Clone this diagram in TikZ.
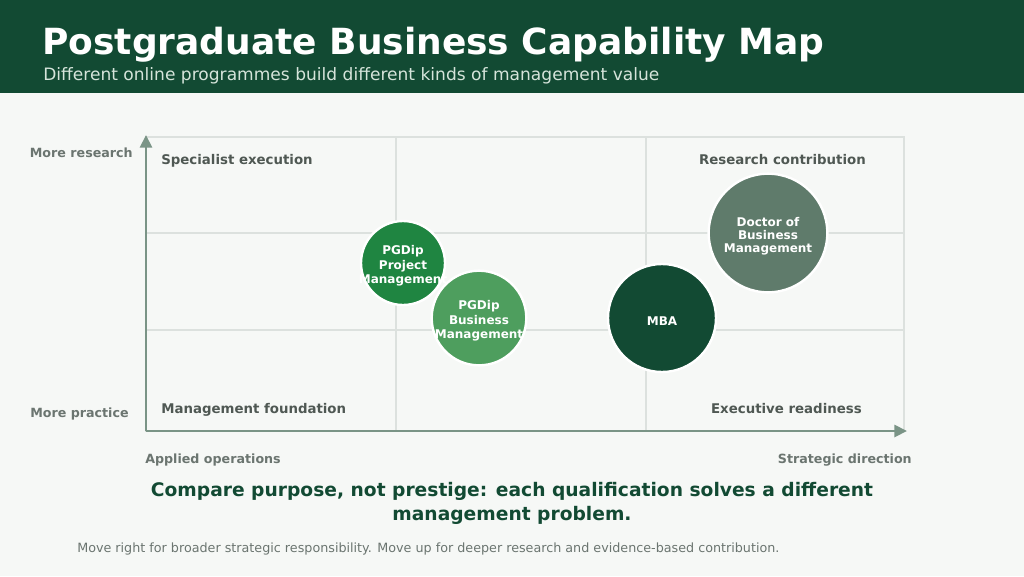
\documentclass[tikz,border=0pt]{standalone}
\usepackage{fontspec}
\setmainfont{DejaVu Sans}
\setsansfont{DejaVu Sans}
\usetikzlibrary{arrows.meta, positioning}
\definecolor{cdark}{HTML}{124A33}
\definecolor{cgreen}{HTML}{1F8541}
\definecolor{clight}{HTML}{4E9E5E}
\definecolor{csage}{HTML}{5F7B6B}
\definecolor{cpaper}{HTML}{F6F8F6}
\definecolor{cgridl}{HTML}{DCE1DE}
\definecolor{caxis}{HTML}{7A9486}
\definecolor{cquad}{HTML}{4F5853}
\definecolor{cgrey}{HTML}{6B7570}
\definecolor{csub}{HTML}{D5E4DA}
\tikzset{
  every picture/.style={font=\sffamily},
  bubble/.style={circle, fill=#1, draw=white, line width=1.8pt, inner sep=0pt},
  bubble/.default=cgreen,
  bubtext/.style={align=center, text=white, inner sep=0pt, yshift=-2.2pt,
    font=\sffamily\bfseries\fontsize{9}{11}\selectfont},
  quad/.style={font=\sffamily\bfseries\fontsize{10}{12}\selectfont, text=cquad, inner sep=0pt},
  axlabel/.style={font=\sffamily\bfseries\fontsize{9.5}{11}\selectfont, text=cgrey, inner sep=0pt},
  arrow/.style={-{Triangle[length=9.5pt, width=9pt]}, draw=caxis, line width=2.2pt},
  note/.style={font=\sffamily\fontsize{9.55}{11}\selectfont, text=cgrey, inner sep=0pt},
}
\begin{document}
\begin{tikzpicture}[x=0.75pt, y=-0.75pt]
  \useasboundingbox[fill=cpaper] (0,0) rectangle (1024,576);
  \fill[cdark] (0,0) rectangle (1024,93);
  \node[anchor=base west, inner sep=0pt, text=white, font=\sffamily\bfseries\fontsize{27}{32}\selectfont] (title) at (42,54) {Postgraduate Business Capability Map};
  \node[anchor=base west, inner sep=0pt, text=csub, font=\sffamily\fontsize{12.8}{15}\selectfont] (subtitle) at (43,80) {Different online programmes build different kinds of management value};
  % grid and frame
  \draw[cgridl, line width=0.9pt] (146,137) rectangle (904,431);
  \draw[cgridl, line width=0.9pt] (396,137) -- (396,431) (646,137) -- (646,431);
  \draw[cgridl, line width=0.9pt] (146,233) -- (904,233) (146,330) -- (904,330);
  % axes
  \coordinate (origin) at (146,431);
  \coordinate (ytip) at (146,135);
  \coordinate (xtip) at (907,431);
  \draw[arrow] (origin) -- (ytip);
  \draw[arrow] (origin) -- (xtip);
  % quadrant labels
  \node[quad, anchor=base west] (qtl) at (161,164) {Specialist execution};
  \node[quad, anchor=base east] (qtr) at (866,164) {Research contribution};
  \node[quad, anchor=base west] (qbl) at (161,413) {Management foundation};
  \node[quad, anchor=base east] (qbr) at (862,413) {Executive readiness};
  % axis labels
  \node[axlabel, anchor=base east] (ymax) at (133,157) {More research};
  \node[axlabel, anchor=base west] (ymin) at (30,417) {More practice};
  \node[axlabel, anchor=base west] (xmin) at (145,463) {Applied operations};
  \node[axlabel, anchor=base east] (xmax) at (912,463) {Strategic direction};
  % programmes
  \node[bubble=cgreen, minimum size=63pt] (pgpm) at (403,263) {};
  \node[bubble=clight, minimum size=71pt] (pgbm) at (479,318) {};
  \node[bubble=cdark, minimum size=81pt] (mba) at (662,318) {};
  \node[bubble=csage, minimum size=89pt] (dbm) at (768,233) {};
  \node[bubtext] (pgpm-t) at (pgpm) {PGDip\\Project\\Management};
  \node[bubtext] (pgbm-t) at (pgbm) {PGDip\\Business\\Management};
  \node[bubtext] (mba-t) at (mba) {MBA};
  \node[bubtext, font=\sffamily\bfseries\fontsize{9}{9.6}\selectfont] (dbm-t) at (dbm) {Doctor of\\Business\\Management};
  % takeaway
  \node[align=center, text=cdark, inner sep=0pt, font=\sffamily\bfseries\fontsize{14}{18}\selectfont] (takeaway) at (512,503) {Compare purpose, not prestige: each qualification solves a different\\management problem.};
  \node[note, anchor=base west] (footnote) at (77,552) {Move right for broader strategic responsibility. Move up for deeper research and evidence-based contribution.};
\end{tikzpicture}
\end{document}
